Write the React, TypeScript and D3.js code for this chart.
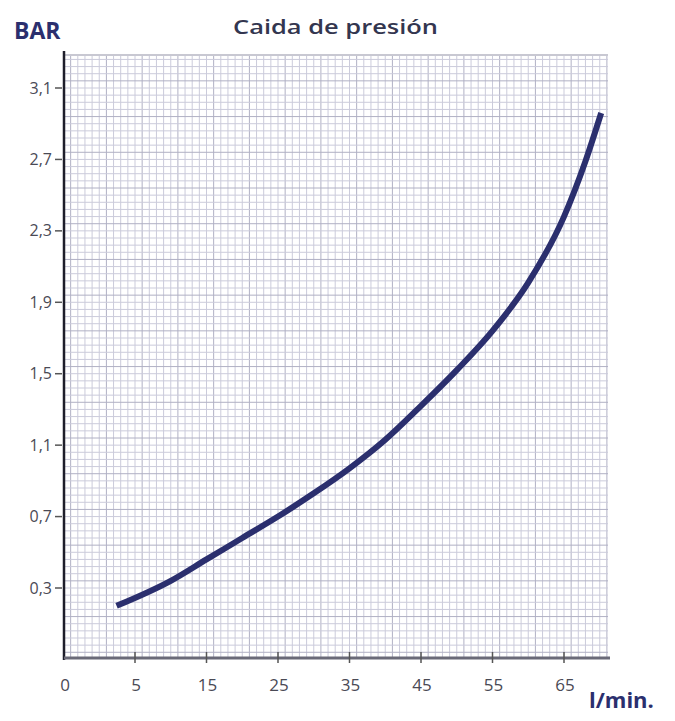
import React from "react";
import * as d3 from "d3";

// caudal (l/min) vs caida de presion (bar)
const flow = [3.7, 10, 15, 20, 25, 30, 35, 40, 45, 50, 55, 60, 65, 68, 70.2];
const pressure = [0.2, 0.34, 0.46, 0.58, 0.7, 0.83, 0.97, 1.13, 1.32, 1.52, 1.74, 2.01, 2.38, 2.69, 2.96];

const xTicks = [0, 5, 15, 25, 35, 45, 55, 65];
const yTicks = [0.3, 0.7, 1.1, 1.5, 1.9, 2.3, 2.7, 3.1];

const W = 675;
const H = 721;
const left = 64;
const right = 608;
const top = 55;
const bottom = 658;

const navy = "#2b2f6e";
const font = "'Open Sans', 'DejaVu Sans', sans-serif";

export default function App() {
  // axis labels are evenly spaced even though 0 -> 5 is a half step
  const x = d3.scaleLinear().domain([0, 5, 65]).range([left, 135, 564]);
  const y = d3.scaleLinear().domain([0.3, 3.1]).range([588, 88]);

  const step = x(6) - x(5);
  const vLines = d3.range(x(5) - 10 * step, right, step).filter((v) => v > left + 2);
  const yStep = y(0.3) - y(0.34);
  const hLines = d3.range(y(0.3) + 9 * yStep, top, -yStep).filter((v) => v < bottom - 2);

  const pts = flow.map((f, i) => [f, pressure[i]] as [number, number]);
  const line = d3
    .line<[number, number]>()
    .x((d) => x(d[0]))
    .y((d) => y(d[1]))
    .curve(d3.curveMonotoneX);

  return (
    <svg width={W} height={H} style={{ display: "block", position: "absolute", left: 0, top: 0, background: "#fff" }}>
      {/* grid */}
      <g>
        {vLines.map((v, i) => (
          <line key={"v" + i} x1={v} x2={v} y1={top} y2={bottom} stroke={i % 5 === 0 ? "#b0b0c4" : "#cbcbdb"} strokeWidth={1} />
        ))}
        {hLines.map((v, i) => (
          <line key={"h" + i} x1={left} x2={right} y1={v} y2={v} stroke={i % 5 === 0 ? "#b0b0c4" : "#cbcbdb"} strokeWidth={1} />
        ))}
        <line x1={left} x2={right} y1={top} y2={top} stroke="#c8c8d2" strokeWidth={2} />
      </g>

      {/* axes */}
      <line x1={left} x2={left} y1={top - 4} y2={bottom + 2} stroke="#1e1e2a" strokeWidth={2.5} />
      <line x1={left} x2={right + 2} y1={bottom} y2={bottom} stroke="#6a6a78" strokeWidth={3} />

      {yTicks.map((t) => (
        <g key={"yt" + t}>
          <line x1={left - 9} x2={left - 2} y1={y(t)} y2={y(t)} stroke="#555" strokeWidth={1.5} />
          <text x={left - 12} y={y(t)} dy="0.35em" textAnchor="end" fontFamily={font} fontSize={16} fill="#4a4a55">
            {t.toFixed(1).replace(".", ",")}
          </text>
        </g>
      ))}

      {xTicks.map((t) => (
        <g key={"xt" + t}>
          {t !== 0 && <line x1={x(t)} x2={x(t)} y1={bottom - 6} y2={bottom + 5} stroke="#555" strokeWidth={1.5} />}
          <text x={x(t) + 1} y={bottom + 33} textAnchor="middle" fontFamily={font} fontSize={17} fill="#4a4a55">
            {t}
          </text>
        </g>
      ))}

      {/* curve */}
      <path d={line(pts) || ""} fill="none" stroke={navy} strokeWidth={6} strokeLinecap="butt" />

      {/* labels */}
      <text x={14} y={39} fontFamily={font} fontSize={23} fontWeight="bold" fill={navy}>
        BAR
      </text>
      <text x={233} y={34} fontFamily={font} fontSize={19} fontWeight={600} fill="#33364f" textLength={205} lengthAdjust="spacingAndGlyphs">
        Caida de presión
      </text>
      <text x={589} y={708} fontFamily={font} fontSize={22} fontWeight="bold" fill={navy}>
        l/min.
      </text>
    </svg>
  );
}
